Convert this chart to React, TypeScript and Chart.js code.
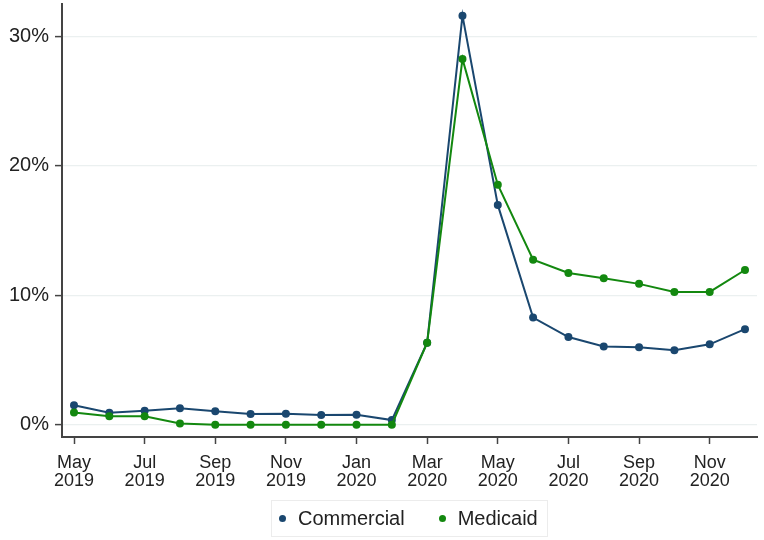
import React, { useEffect, useRef } from "react";
import { Chart, registerables } from "chart.js";

Chart.register(...registerables);

const months: string[] = [
  "May 2019", "Jun 2019", "Jul 2019", "Aug 2019", "Sep 2019", "Oct 2019", "Nov 2019", "Dec 2019",
  "Jan 2020", "Feb 2020", "Mar 2020", "Apr 2020", "May 2020", "Jun 2020", "Jul 2020", "Aug 2020",
  "Sep 2020", "Oct 2020", "Nov 2020", "Dec 2020",
];
const commercial: number[] = [
  1.5, 0.92, 1.08, 1.28, 1.03, 0.82, 0.85, 0.75, 0.77, 0.36,
  6.34, 31.6, 16.98, 8.28, 6.77, 6.05, 5.98, 5.75, 6.21, 7.38,
];
const medicaid: number[] = [
  0.95, 0.65, 0.65, 0.1, 0.0, 0.0, 0.0, 0.0, 0.0, 0.0,
  6.34, 28.26, 18.54, 12.75, 11.72, 11.31, 10.88, 10.26, 10.26, 11.95,
];
const xTickIndex: number[] = [0, 2, 4, 6, 8, 10, 12, 14, 16, 18];
const xTickLabels: string[][] = [
  ["May", "2019"], ["Jul", "2019"], ["Sep", "2019"], ["Nov", "2019"], ["Jan", "2020"],
  ["Mar", "2020"], ["May", "2020"], ["Jul", "2020"], ["Sep", "2020"], ["Nov", "2020"],
];
const yTicks: number[] = [0, 10, 20, 30];
const seriesNames: string[] = ["Commercial", "Medicaid"];
const seriesColors: string[] = ["#1a476f", "#13880f"];

const FONT = "'Liberation Sans', Arial, Helvetica, sans-serif";
const TEXT = "#222222";
const AXIS = "#444444";

export default function App() {
  const ref = useRef<HTMLCanvasElement | null>(null);

  useEffect(() => {
    if (!ref.current) return;
    const series = [commercial, medicaid];
    const chart = new Chart(ref.current, {
      type: "line",
      data: {
        datasets: series.map((vals, s) => ({
          label: seriesNames[s],
          data: vals.map((v, i) => ({ x: i, y: v })),
          borderColor: seriesColors[s],
          backgroundColor: seriesColors[s],
          pointBackgroundColor: seriesColors[s],
          pointBorderWidth: 0,
          pointRadius: 4,
          borderWidth: 2,
          tension: 0,
          fill: false,
          order: s === 0 ? 2 : 1,
        })),
      },
      options: {
        responsive: false,
        animation: false,
        layout: { padding: { left: 0, right: 7, top: 2, bottom: 0 } },
        plugins: { legend: { display: false }, tooltip: { enabled: false } },
        scales: {
          x: {
            type: "linear",
            min: -0.34,
            max: 19.34,
            afterBuildTicks: (scale: any) => {
              scale.ticks = xTickIndex.map((v) => ({ value: v }));
            },
            afterFit: (scale: any) => {
              scale.height = 103;
              scale.paddingLeft = 0;
              scale.paddingRight = 0;
            },
            grid: {
              drawOnChartArea: false,
              drawTicks: true,
              tickLength: 7,
              tickColor: AXIS,
              tickWidth: 1.5,
            },
            border: { display: true, color: AXIS, width: 2 },
            ticks: {
              autoSkip: false,
              maxRotation: 0,
              padding: 10,
              color: TEXT,
              font: { family: FONT, size: 18, lineHeight: 1.0 },
              callback: (v: any) => {
                const k = xTickIndex.indexOf(Number(v));
                return k >= 0 ? xTickLabels[k] : "";
              },
            },
          },
          y: {
            type: "linear",
            min: -0.95,
            max: 32.5,
            afterBuildTicks: (scale: any) => {
              scale.ticks = yTicks.map((v) => ({ value: v }));
            },
            afterFit: (scale: any) => {
              scale.width = 62;
              scale.paddingTop = 0;
              scale.paddingBottom = 0;
            },
            grid: {
              drawOnChartArea: true,
              color: "#ebf0f0",
              lineWidth: 1.2,
              drawTicks: true,
              tickLength: 7,
              tickColor: AXIS,
              tickWidth: 1.5,
            },
            border: { display: true, color: AXIS, width: 2 },
            ticks: {
              padding: 6,
              color: TEXT,
              font: { family: FONT, size: 20 },
              callback: (v: any) => `${v}%`,
            },
          },
        },
      },
    });
    return () => chart.destroy();
  }, []);

  return (
    <div style={{ position: "absolute", left: 0, top: 0, width: 764, height: 540, background: "#fff" }}>
      <canvas ref={ref} width={764} height={540} style={{ display: "block" }} />
      <div
        style={{
          position: "absolute",
          left: 271,
          top: 500,
          width: 277,
          height: 37,
          boxSizing: "border-box",
          border: "1px solid #ececec",
          display: "flex",
          alignItems: "center",
          fontFamily: FONT,
          fontSize: 20,
          color: TEXT,
        }}
      >
        {seriesNames.map((name, i) => (
          <div key={name} style={{ display: "flex", alignItems: "center", marginLeft: i === 0 ? 7 : 34 }}>
            <span
              style={{
                display: "inline-block",
                width: 7,
                height: 7,
                borderRadius: "50%",
                background: seriesColors[i],
                marginRight: 12,
              }}
            />
            <span>{name}</span>
          </div>
        ))}
      </div>
    </div>
  );
}
